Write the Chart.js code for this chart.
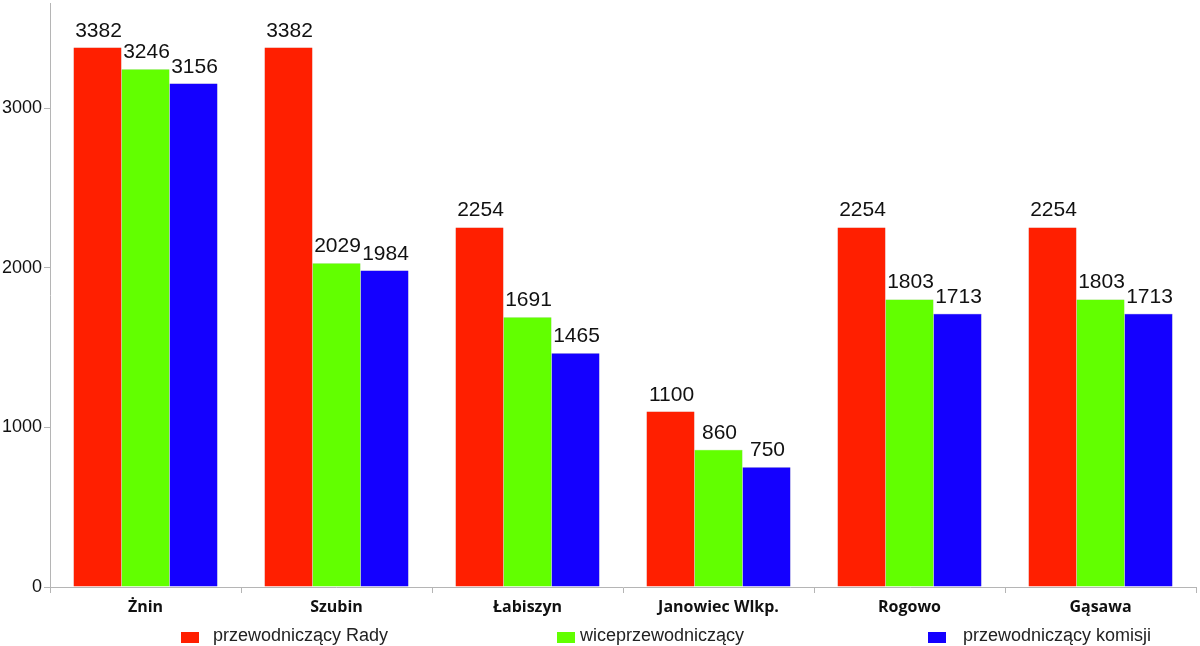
<!DOCTYPE html>
<html>
<head>
<meta charset="utf-8">
<script src="https://cdn.jsdelivr.net/npm/chart.js@4/dist/chart.umd.min.js"></script>
<style>
  html, body { margin: 0; padding: 0; background: #fff; }
  #wrap { width: 1200px; height: 646px; }
</style>
</head>
<body>
<div id="wrap"><canvas id="salaryChart" width="1200" height="646"></canvas></div>
<script>
const categories = ['Żnin', 'Szubin', 'Łabiszyn', 'Janowiec Wlkp.', 'Rogowo', 'Gąsawa'];
const seriesNames = ['przewodniczący Rady', 'wiceprzewodniczący', 'przewodniczący komisji'];
const chairValues = [3382, 3382, 2254, 1100, 2254, 2254];
const viceValues = [3246, 2029, 1691, 860, 1803, 1803];
const committeeValues = [3156, 1984, 1465, 750, 1713, 1713];
const yTicks = [0, 1000, 2000, 3000];

const colors = ['#ff1f00', '#62ff00', '#1400ff'];
const borders = ['#d81a00', '#4fd600', '#1000c8'];

// value labels above each bar
const valueLabels = {
  id: 'valueLabels',
  afterDatasetsDraw(chart) {
    const ctx = chart.ctx;
    ctx.save();
    ctx.font = '21px "Liberation Sans", Arial, sans-serif';
    ctx.fillStyle = '#111';
    ctx.textAlign = 'center';
    ctx.textBaseline = 'alphabetic';
    chart.data.datasets.forEach((ds, i) => {
      chart.getDatasetMeta(i).data.forEach((bar, j) => {
        ctx.fillText(String(ds.data[j]), bar.x + 1, bar.y - 11);
      });
    });
    ctx.restore();
  }
};

// legend row at the bottom, spaced like the original
const bottomLegend = {
  id: 'bottomLegend',
  afterDraw(chart) {
    const ctx = chart.ctx;
    const boxX = [181, 557, 928];
    const textX = [213, 580, 963];
    ctx.save();
    ctx.font = '18px "Liberation Sans", Arial, sans-serif';
    ctx.textBaseline = 'alphabetic';
    ctx.textAlign = 'left';
    seriesNames.forEach((name, i) => {
      ctx.fillStyle = colors[i];
      ctx.fillRect(boxX[i], 632, 18, 11);
      ctx.fillStyle = '#222';
      ctx.fillText(name, textX[i], 641);
    });
    ctx.restore();
  }
};

new Chart(document.getElementById('salaryChart'), {
  type: 'bar',
  data: {
    labels: categories,
    datasets: [
      { label: seriesNames[0], data: chairValues, backgroundColor: colors[0], borderColor: borders[0], borderWidth: 0.5 },
      { label: seriesNames[1], data: viceValues, backgroundColor: colors[1], borderColor: borders[1], borderWidth: 0.5 },
      { label: seriesNames[2], data: committeeValues, backgroundColor: colors[2], borderColor: borders[2], borderWidth: 0.5 }
    ]
  },
  options: {
    responsive: false,
    animation: false,
    devicePixelRatio: 1,
    categoryPercentage: 0.754,
    barPercentage: 1,
    layout: { padding: { left: 0, right: 4, top: 2, bottom: 0 } },
    plugins: {
      legend: { display: false },
      tooltip: { enabled: false }
    },
    scales: {
      x: {
        grid: { display: true, offset: true, drawOnChartArea: false, drawTicks: true, tickLength: 6, color: '#b5b5b5' },
        border: { color: '#b5b5b5', width: 1 },
        ticks: {
          color: '#111',
          padding: 5,
          font: { family: '"Open Sans", sans-serif', size: 16, weight: 'bold' }
        },
        afterFit(scale) { scale.height = 59; }
      },
      y: {
        min: 0,
        max: 3656,
        afterBuildTicks(scale) {
          scale.ticks = yTicks.map(v => ({ value: v }));
        },
        grid: { display: true, drawOnChartArea: false, drawTicks: true, tickLength: 6, color: '#b5b5b5' },
        border: { color: '#b5b5b5', width: 1 },
        ticks: {
          color: '#111',
          padding: 2,
          font: { family: '"Liberation Sans", Arial, sans-serif', size: 18, lineHeight: 0.2 },
          callback: v => String(v)
        },
        afterFit(scale) { scale.width = 50; }
      }
    }
  },
  plugins: [valueLabels, bottomLegend]
});
</script>
</body>
</html>
